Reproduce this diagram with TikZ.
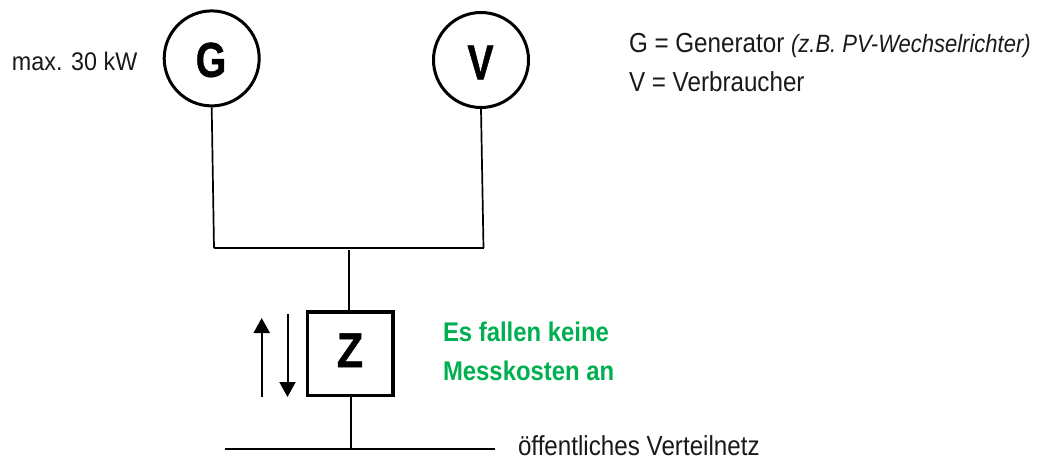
\documentclass[tikz,border=0pt]{standalone}
\usepackage{fontspec}
\setmainfont{Liberation Sans}
\newfontfamily\heavyfont[FakeBold=1]{Liberation Sans Bold}
\usetikzlibrary{arrows.meta}
\definecolor{msgreen}{HTML}{00B050}
\tikzset{
  plain/.style={inner sep=0pt,outer sep=0pt,anchor=base west,font=\fontsize{27.5}{28}\selectfont,text=black!90,xscale=.88,transform shape},
  shorttext/.style={inner sep=0pt,outer sep=0pt,anchor=base west,font=\fontsize{25.5}{26}\selectfont,text=black!90,xscale=.915,transform shape},
  greentext/.style={inner sep=0pt,outer sep=0pt,anchor=base west,font=\fontsize{27}{27}\selectfont\bfseries,text=msgreen,xscale=.885,transform shape},
  bigletter/.style={inner sep=0pt,outer sep=0pt,font=\fontsize{49}{49}\heavyfont,xscale=.8,transform shape,anchor=base},
  device/.style={circle,draw=black,line width=3pt,minimum size=95pt,inner sep=0pt},
  meter/.style={rectangle,draw=black,line width=3.5pt,minimum width=85.5pt,minimum height=83.5pt,inner sep=0pt},
  wire/.style={draw=black,line width=1.7pt},
  flow/.style={draw=black,line width=2pt,-{Triangle[length=15pt,width=16pt]}}
}
\begin{document}
\begin{tikzpicture}[x=1pt,y=-1pt]
\useasboundingbox (0,0) rectangle (1037,460);
\node[device] (G) at (211.7,58.4) {};
\node[device] (V) at (481,60) {};
\node[meter] (Z) at (350.3,353.5) {};
\node[bigletter] (Gl) at (211,76.8) {G};
\node[bigletter] (Vl) at (480.5,79.3) {V};
\node[bigletter,xscale=1.1] (Zl) at (350,367.2) {Z};
\coordinate (gj) at (214,248);
\coordinate (vj) at (483.5,248);
\coordinate (mj) at (349,250);
\coordinate (zb) at (351,449);
\coordinate (nl) at (225,449);
\coordinate (nr) at (495,449);
\coordinate (ua) at (261.7,397);
\coordinate (ub) at (261.7,318);
\coordinate (da) at (287.5,314);
\coordinate (db) at (287.5,397);
\draw[wire] (G.south) -- (gj);
\draw[wire] (V.south) -- (vj);
\draw[wire] (gj) -- (vj);
\draw[wire] (mj) -- (Z.north -| mj);
\draw[wire] (Z.south -| zb) -- (zb);
\draw[wire] (nl) -- (nr);
\draw[flow] (ua) -- (ub);
\draw[flow] (da) -- (db);
\node[shorttext] (maxl) at (12,71) {max. 30 kW};
\node[plain] (l1) at (629,52.7) {G = Generator {\fontsize{25}{25}\selectfont\itshape (z.B. PV-Wechselrichter)}};
\node[plain] (l2) at (629,91.7) {V = Verbraucher};
\node[greentext] (g1) at (443,341.7) {Es fallen keine};
\node[greentext] (g2) at (443,380.7) {Messkosten an};
\node[plain] (net) at (518,455) {öffentliches Verteilnetz};
\end{tikzpicture}
\end{document}
